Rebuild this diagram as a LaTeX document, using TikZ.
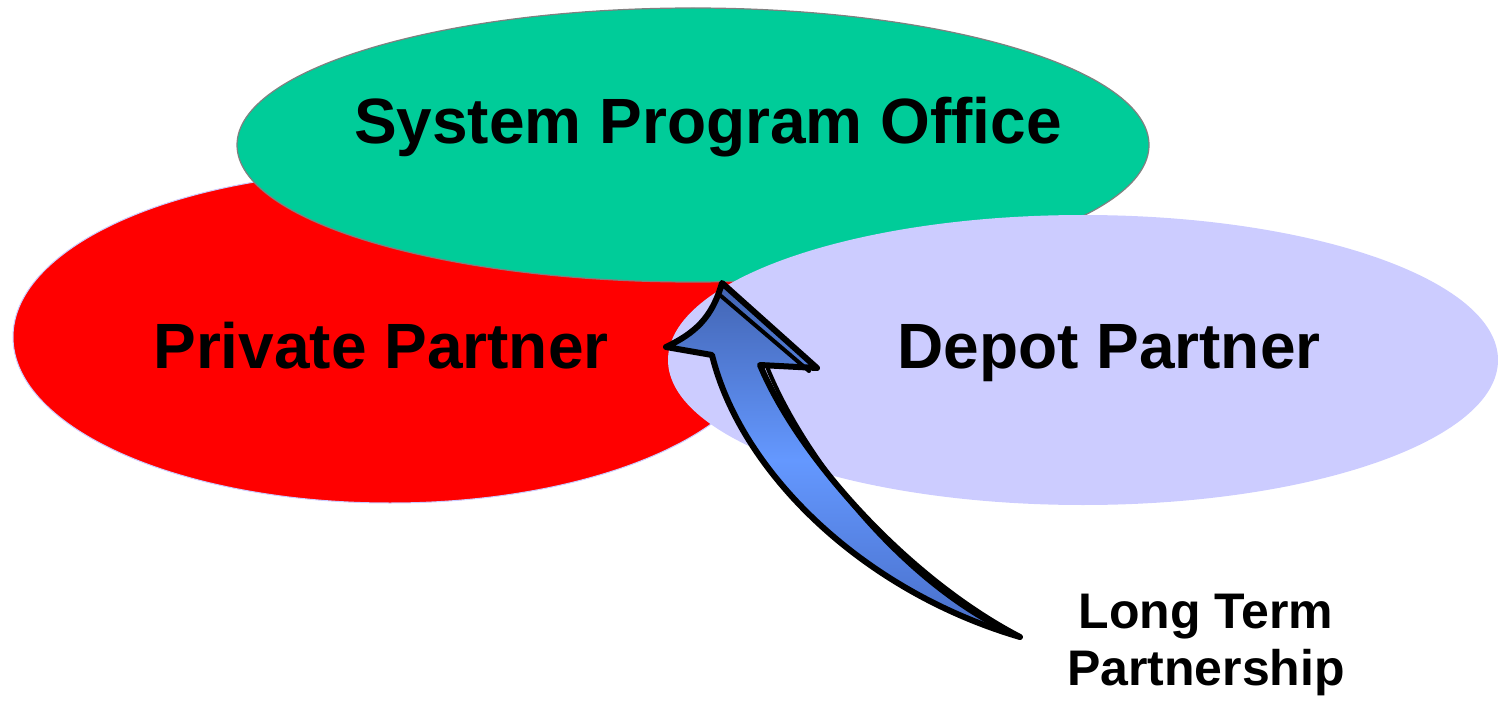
\documentclass[tikz,border=0pt]{standalone}
\usepackage{fontspec}
\setmainfont{Liberation Sans}
\definecolor{privred}{RGB}{255,0,0}
\definecolor{spogreen}{RGB}{0,204,153}
\definecolor{depotlilac}{RGB}{204,204,255}
\definecolor{arrowdark}{RGB}{66,100,178}
\definecolor{arrowlight}{RGB}{100,152,255}
\definecolor{arrowlow}{RGB}{72,110,200}
% light in the middle of the shaft, darker at the head and at the tail
\pgfdeclareverticalshading{arrowfade}{100bp}{%
  color(0bp)=(arrowlow); color(25bp)=(arrowlow); color(50bp)=(arrowlight);
  color(75bp)=(arrowdark); color(100bp)=(arrowdark)}
\tikzset{
  label/.style={font=\bfseries\fontsize{64}{77}\selectfont, anchor=base, inner sep=0pt},
  smalllabel/.style={font=\bfseries\fontsize{50}{57}\selectfont, align=center, inner sep=0pt},
  arrowbody/.style={line width=6pt, line join=round, draw=black, shading=arrowfade},
  edgeline/.style={line width=4pt, line cap=round, draw=black}
}
\begin{document}
\begin{tikzpicture}[x=1pt, y=-1pt]
  \useasboundingbox (0,0) rectangle (1498,703);

  % the three partners
  \fill[privred, draw=depotlilac, line width=1pt] (390,337) ellipse [x radius=377, y radius=166];
  \fill[spogreen, draw=gray, line width=1.2pt] (693,145) ellipse [x radius=456, y radius=137];
  \fill[depotlilac] (1083,360) ellipse [x radius=415, y radius=145];

  \node[label] (spo) at (708,144) {System Program Office};
  \node[label] (private) at (381,368) {Private Partner};
  \node[label] (depot) at (1109,368) {Depot Partner};

  % curved block arrow
  \coordinate (tail) at (1020,637);
  \coordinate (tip) at (722,283);
  \path[arrowbody]
    (tail) .. controls (860,590) and (740,470) .. (712,355)
    -- (666,347) .. controls (695,333) and (712,318) .. (tip)
    -- (817,368) -- (760,365)
    .. controls (800,460) and (910,580) .. (tail) -- cycle;
  % side face of the arrow
  \draw[edgeline] (721,296) -- (809,371);
  \draw[edgeline] (768,369) .. controls (806,462) and (905,585) .. (1012,634);

  \node[smalllabel, anchor=base] (ltp) at (1206,685) {Long Term\\Partnership};
\end{tikzpicture}
\end{document}
